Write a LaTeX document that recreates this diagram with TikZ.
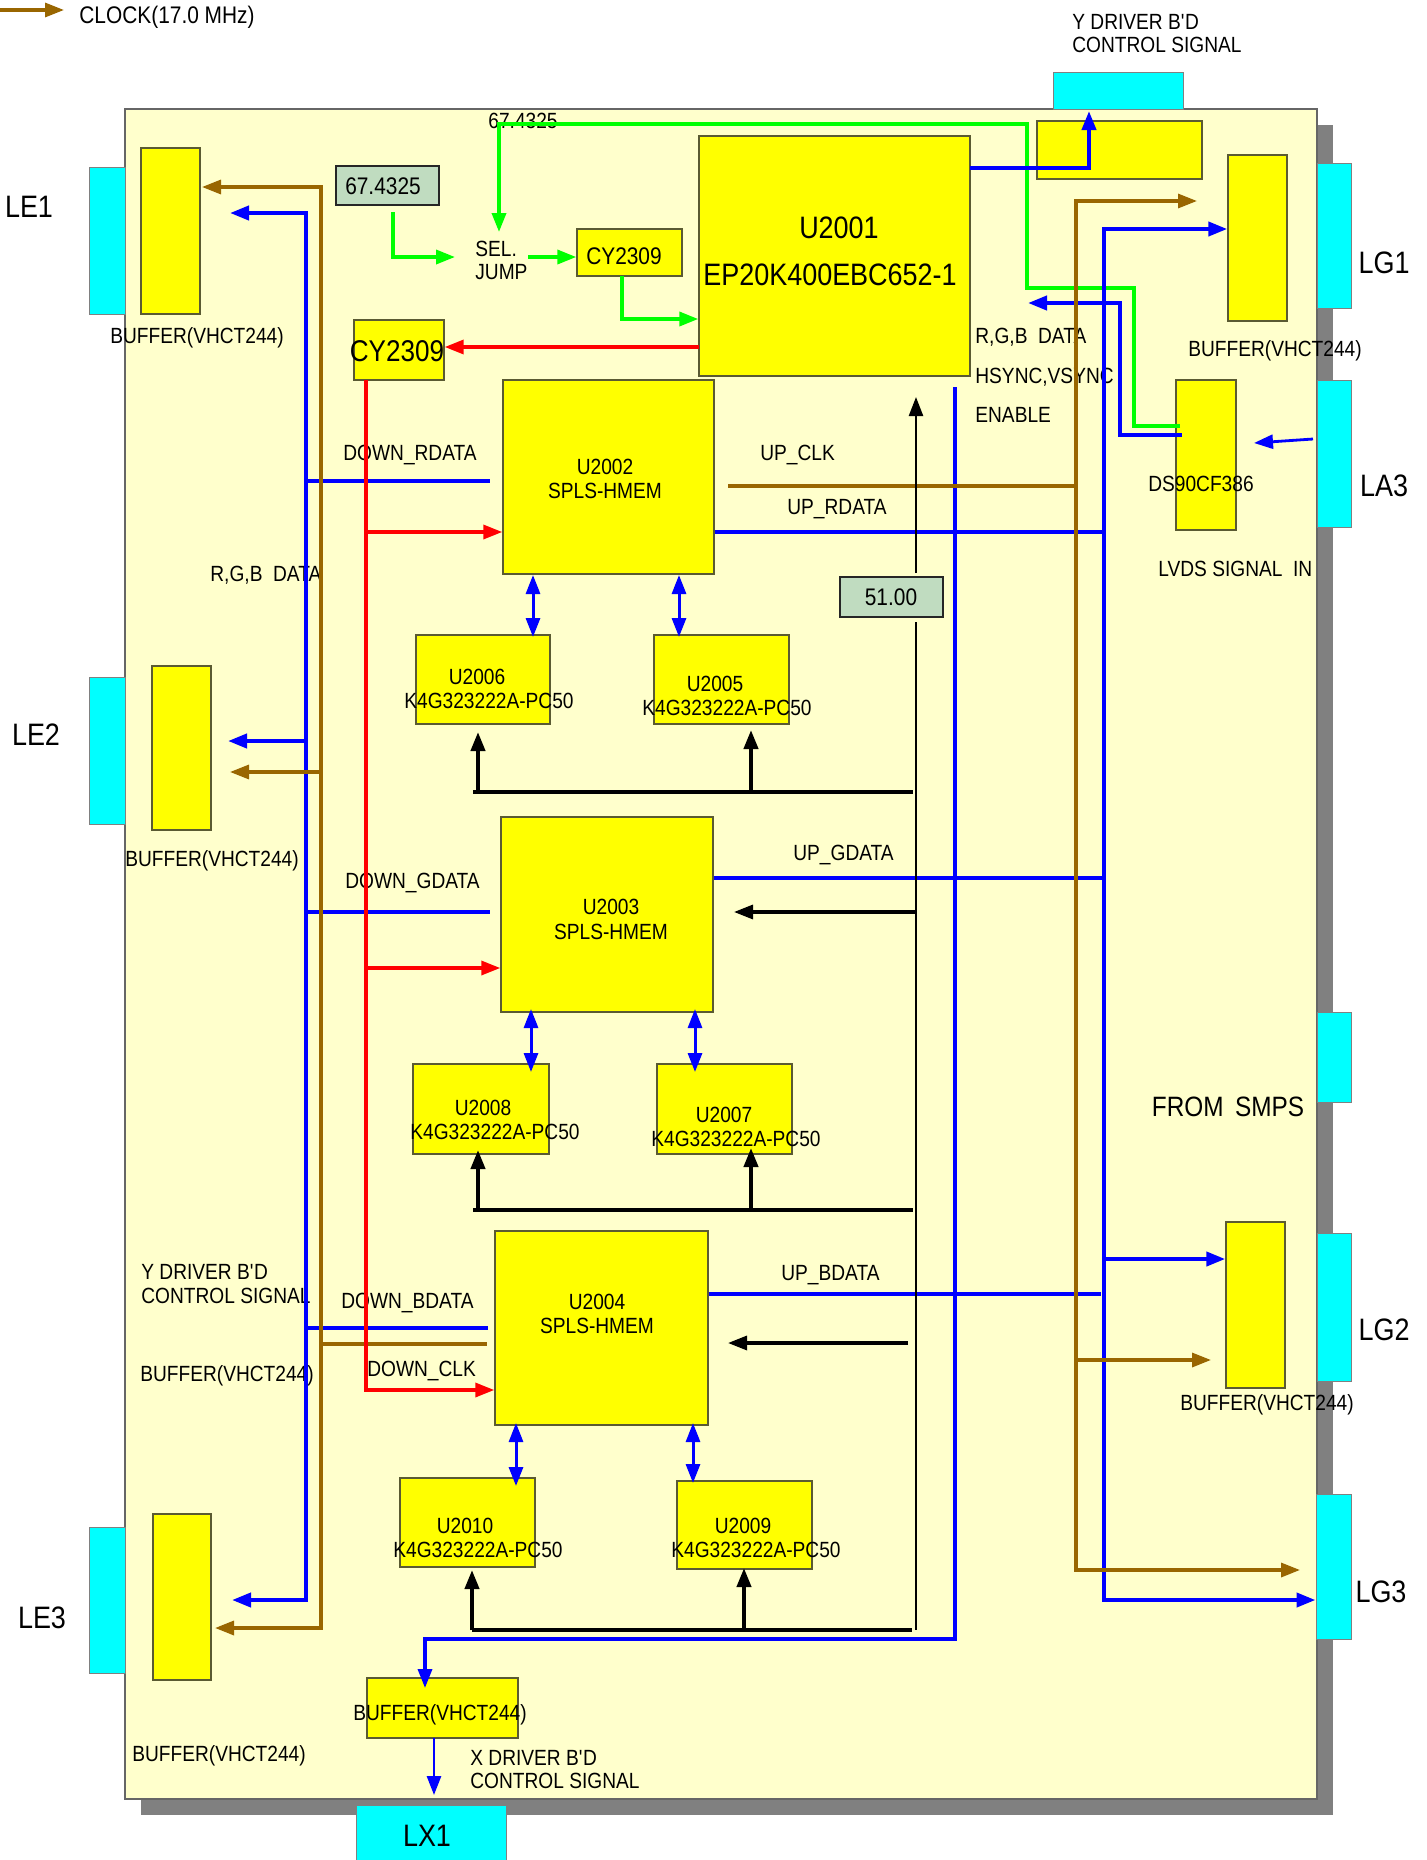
\documentclass[tikz,border=0pt]{standalone}
\usepackage{fontspec}
\setmainfont{Liberation Sans}[FakeStretch=0.87]
\usetikzlibrary{arrows.meta,fit}
\definecolor{boardc}{HTML}{FFFFCC}
\definecolor{ylw}{HTML}{FFFF00}
\definecolor{cyn}{HTML}{00FFFF}
\definecolor{olv}{HTML}{5A5A32}
\definecolor{shd}{HTML}{808080}
\definecolor{gbx}{HTML}{C0DCC0}
\definecolor{brn}{HTML}{996600}
\definecolor{blu}{HTML}{0000FF}
\definecolor{grn}{HTML}{00FF00}
\definecolor{rdd}{HTML}{FF0000}
\newcommand\ftxt{\fontsize{11}{12}\selectfont}
\newcommand\fbig{\fontsize{15.5}{17}\selectfont}
\newcommand\fcy{\fontsize{15}{17}\selectfont}
\newcommand\fsm{\fontsize{12}{13}\selectfont}
\newcommand\fsmps{\fontsize{14}{16}\selectfont}
\newcommand\mkbox[6]{\path (#2,#3) coordinate (#1nw) (#4,#5) coordinate (#1se); \node[#6, fit=(#1nw)(#1se)] (#1) {};}
\begin{document}
\begin{tikzpicture}[x=0.5pt,y=-0.5pt,
  ybox/.style={draw=olv, fill=ylw, line width=0.7pt, inner sep=0pt},
  cbox/.style={draw=gray, fill=cyn, line width=0.5pt, inner sep=0pt},
  gbox/.style={draw=black!85, fill=gbx, line width=0.7pt, inner sep=0pt},
  shadowst/.style={fill=shd, draw=none, inner sep=0pt},
  boardst/.style={fill=boardc, draw=black!60, line width=0.7pt, inner sep=0pt},
  lbl/.style={font=\ftxt, inner sep=0pt, anchor=base west},
  ctr/.style={font=\ftxt, inner sep=0pt, anchor=base},
  big/.style={font=\fbig, inner sep=0pt, anchor=base},
  ah/.style={-{Triangle[length=9.5pt,width=7pt]}},
  dah/.style={{Triangle[length=9.5pt,width=7pt]}-{Triangle[length=9.5pt,width=7pt]}},
  wBlue/.style={draw=blu, line width=2pt},
  wBlueThin/.style={draw=blu, line width=1.4pt},
  wBrown/.style={draw=brn, line width=1.6pt},
  wRed/.style={draw=rdd, line width=1.7pt},
  wGreen/.style={draw=grn, line width=1.8pt},
  wBlack/.style={draw=black, line width=2pt},
  wBlackThin/.style={draw=black, line width=1.2pt},
  wMem/.style={draw=blu, line width=1.5pt, dah}]
\useasboundingbox (0,0) rectangle (1426,1860);

% board and shadow
\mkbox{shadow}{141}{125}{1333}{1815}{shadowst}
\mkbox{board}{125}{109}{1317}{1799}{boardst}

% cyan connectors
\mkbox{le1c}{89}{167}{125}{314}{cbox}
\mkbox{le2c}{89}{677}{125}{824}{cbox}
\mkbox{le3c}{89}{1527}{125}{1673}{cbox}
\mkbox{lg1c}{1317}{163}{1351}{308}{cbox}
\mkbox{la3c}{1317}{380}{1351}{527}{cbox}
\mkbox{smpsc}{1317}{1012}{1351}{1102}{cbox}
\mkbox{lg2c}{1317}{1233}{1351}{1381}{cbox}
\mkbox{lg3c}{1316}{1494}{1351}{1639}{cbox}
\mkbox{topc}{1053}{72}{1183}{109}{cbox}
\mkbox{lx1c}{356}{1805}{506}{1860}{cbox}

% yellow boxes
\mkbox{le1b}{141}{148}{200}{314}{ybox}
\mkbox{le2b}{152}{666}{211}{830}{ybox}
\mkbox{le3b}{153}{1514}{211}{1680}{ybox}
\mkbox{lg1b}{1228}{155}{1287}{321}{ybox}
\mkbox{ds90}{1176}{380}{1236}{530}{ybox}
\mkbox{lg2b}{1226}{1222}{1285}{1388}{ybox}
\mkbox{ytop}{1037}{121}{1202}{179}{ybox}
\mkbox{u2001}{699}{136}{970}{376}{ybox}
\mkbox{cytop}{577}{229}{682}{276}{ybox}
\mkbox{cybig}{354}{320}{444}{380}{ybox}
\mkbox{u2002}{503}{380}{714}{574}{ybox}
\mkbox{u2006}{416}{635}{550}{724}{ybox}
\mkbox{u2005}{654}{635}{789}{724}{ybox}
\mkbox{u2003}{501}{817}{713}{1012}{ybox}
\mkbox{u2008}{413}{1064}{549}{1154}{ybox}
\mkbox{u2007}{657}{1064}{792}{1154}{ybox}
\mkbox{u2004}{495}{1231}{708}{1425}{ybox}
\mkbox{u2010}{400}{1478}{535}{1567}{ybox}
\mkbox{u2009}{677}{1481}{812}{1569}{ybox}
\mkbox{xbuf}{367}{1678}{518}{1738}{ybox}
\mkbox{fqa}{336}{166}{439}{205}{gbox}
\mkbox{fqb}{840}{577}{943}{617}{gbox}

% texts
\node[lbl, font=\fsm] (tclock) at (79,23) {CLOCK(17.0 MHz)};
\node[lbl] (tyd1) at (1072,29) {Y DRIVER B\textquotesingle D};
\node[lbl] (tyd2) at (1072,52) {CONTROL SIGNAL};
\node[big] (tle1) at (29,217) {LE1};
\node[big] (tle2) at (36,745) {LE2};
\node[big] (tle3) at (42,1628) {LE3};
\node[big] (tlg1) at (1384,273) {LG1};
\node[big] (tla3) at (1384,496) {LA3};
\node[big] (tlg2) at (1384,1340) {LG2};
\node[big] (tlg3) at (1381,1602) {LG3};
\node[big] (tlx1) at (427,1846) {LX1};
\node[inner sep=0pt, anchor=base, font=\fsmps] (tsmps) at (1228,1116) {FROM\ \,SMPS};
\node[big] (tu2001a) at (839,238) {U2001};
\node[big] (tu2001b) at (830,285) {EP20K400EBC652-1};
\node[inner sep=0pt, anchor=base, font=\fsm] (tcy1) at (624,264) {CY2309};
\node[inner sep=0pt, anchor=base, font=\fcy] (tcy2) at (397,361) {CY2309};
\node[inner sep=0pt, anchor=base, font=\fsm] (tfq1) at (383,194) {67.4325};
\node[inner sep=0pt, anchor=base, font=\fsm] (tfq2) at (891,605) {51.00};
\node[ctr] (tu2002a) at (605,474) {U2002};
\node[ctr] (tu2002b) at (605,498) {SPLS-HMEM};
\node[ctr] (tu2006a) at (477,684) {U2006};
\node[ctr] (tu2006b) at (489,708) {K4G323222A-PC50};
\node[ctr] (tu2005a) at (715,691) {U2005};
\node[ctr] (tu2005b) at (727,715) {K4G323222A-PC50};
\node[ctr] (tu2003a) at (611,914) {U2003};
\node[ctr] (tu2003b) at (611,939) {SPLS-HMEM};
\node[ctr] (tu2008a) at (483,1115) {U2008};
\node[ctr] (tu2008b) at (495,1139) {K4G323222A-PC50};
\node[ctr] (tu2007a) at (724,1122) {U2007};
\node[ctr] (tu2007b) at (736,1146) {K4G323222A-PC50};
\node[ctr] (tu2004a) at (597,1309) {U2004};
\node[ctr] (tu2004b) at (597,1333) {SPLS-HMEM};
\node[ctr] (tu2010a) at (465,1533) {U2010};
\node[ctr] (tu2010b) at (478,1557) {K4G323222A-PC50};
\node[ctr] (tu2009a) at (743,1533) {U2009};
\node[ctr] (tu2009b) at (756,1557) {K4G323222A-PC50};
\node[ctr] (txbuf) at (440,1720) {BUFFER(VHCT244)};
\node[ctr] (tds90) at (1201,491) {DS90CF386};
\node[lbl] (tsel1) at (475,256) {SEL.};
\node[lbl] (tsel2) at (475,279) {JUMP};
\node[lbl] (tfq3) at (488,128) {67.4325};
\node[lbl] (tbuf1) at (110,343) {BUFFER(VHCT244)};
\node[lbl] (tbuf2) at (125,866) {BUFFER(VHCT244)};
\node[lbl] (tbuf3) at (132,1761) {BUFFER(VHCT244)};
\node[lbl] (tbuf4) at (140,1381) {BUFFER(VHCT244)};
\node[lbl] (tbuf5) at (1188,356) {BUFFER(VHCT244)};
\node[lbl] (tbuf6) at (1180,1410) {BUFFER(VHCT244)};
\node[lbl] (tyl1) at (141,1279) {Y DRIVER B\textquotesingle D};
\node[lbl] (tyl2) at (141,1303) {CONTROL SIGNAL};
\node[lbl] (tlvds) at (1158,576) {LVDS\ SIGNAL\ \ IN};
\node[lbl] (trgb1) at (975,343) {R,G,B\ \ DATA};
\node[lbl] (thsync) at (975,383) {HSYNC,VSYNC};
\node[lbl] (tenable) at (975,422) {ENABLE};
\node[lbl] (trgb2) at (210,581) {R,G,B\ \ DATA};
\node[lbl] (tdr) at (343,460) {DOWN\_RDATA};
\node[lbl] (tdg) at (345,888) {DOWN\_GDATA};
\node[lbl] (tdb) at (341,1308) {DOWN\_BDATA};
\node[lbl] (tdc) at (367,1376) {DOWN\_CLK};
\node[lbl] (tuc) at (760,460) {UP\_CLK};
\node[lbl] (tur) at (787,514) {UP\_RDATA};
\node[lbl] (tug) at (793,860) {UP\_GDATA};
\node[lbl] (tub) at (781,1280) {UP\_BDATA};
\node[lbl] (txd1) at (470,1765) {X DRIVER B\textquotesingle D};
\node[lbl] (txd2) at (470,1788) {CONTROL SIGNAL};

% legend arrow
\coordinate (lgA) at (0,10); \coordinate (lgB) at (64,10);
\draw[wBrown,ah] (lgA) -- (lgB);

% left blue bus
\coordinate (bL1) at (306,213); \coordinate (bL3) at (306,1600);
\coordinate (aLE1) at (230,213); \coordinate (aLE3) at (232,1600);
\draw[wBlue,dah] (aLE1) -- (bL1) -- (bL3) -- (aLE3);
\coordinate (bL2) at (306,741); \coordinate (aLE2) at (228,741);
\draw[wBlue,ah] (bL2) -- (aLE2);
\coordinate (bLr) at (306,481); \coordinate (eR) at (490,481);
\draw[wBlue] (bLr) -- (eR);
\coordinate (bLg) at (306,912); \coordinate (eG) at (490,912);
\draw[wBlue] (bLg) -- (eG);
\coordinate (bLb) at (306,1328); \coordinate (eB) at (488,1328);
\draw[wBlue] (bLb) -- (eB);

% left brown bus
\coordinate (cL1) at (321,187); \coordinate (cL3) at (321,1628);
\coordinate (aC1) at (202,187); \coordinate (aC3) at (215,1628);
\draw[wBrown,dah] (aC1) -- (cL1) -- (cL3) -- (aC3);
\coordinate (cL2) at (321,772); \coordinate (aC2) at (230,772);
\draw[wBrown,ah] (cL2) -- (aC2);
\coordinate (cL4) at (321,1344); \coordinate (eC4) at (487,1344);
\draw[wBrown] (cL4) -- (eC4);

% red
\coordinate (r0) at (699,347);
\draw[wRed,ah] (r0) -- (cybig.east |- r0);
\coordinate (rT) at (366,380); \coordinate (rB) at (366,1390);
\draw[wRed,ah] (rT) -- (rB) -- (u2004.west |- rB);
\coordinate (r1) at (366,532); \draw[wRed,ah] (r1) -- (u2002.west |- r1);
\coordinate (r2) at (366,968); \draw[wRed,ah] (r2) -- (u2003.west |- r2);

% green
\coordinate (g1) at (393,212); \coordinate (g2) at (393,257); \coordinate (g3) at (455,257);
\draw[wGreen,ah] (g1) -- (g2) -- (g3);
\coordinate (g4) at (528,257); \draw[wGreen,ah] (g4) -- (cytop.west |- g4);
\coordinate (g5) at (622,276); \coordinate (g6) at (622,319);
\draw[wGreen,ah] (g5) -- (g6) -- (u2001.west |- g6);
\coordinate (h1) at (1180,426); \coordinate (h2) at (1134,426); \coordinate (h3) at (1134,288);
\coordinate (h4) at (1027,288); \coordinate (h5) at (1027,124); \coordinate (h6) at (499,124);
\coordinate (h7) at (499,232);
\draw[wGreen,ah] (h1) -- (h2) -- (h3) -- (h4) -- (h5) -- (h6) -- (h7);

% blue upper right
\coordinate (k1) at (970,168); \coordinate (k2) at (1089,168); \coordinate (k3) at (1089,111);
\draw[wBlue,ah] (k1) -- (k2) -- (k3);
\coordinate (m1) at (1182,435); \coordinate (m2) at (1120,435); \coordinate (m3) at (1120,303); \coordinate (m4) at (1028,303);
\draw[wBlue,ah] (m1) -- (m2) -- (m3) -- (m4);
\coordinate (n1) at (1313,439); \coordinate (n2) at (1254,443);
\draw[wBlueThin,ah] (n1) -- (n2);

% right blue bus
\coordinate (p1) at (1104,229); \coordinate (p2) at (1104,1600);
\draw[wBlue,dah] (lg1b.west |- p1) -- (p1) -- (p2) -- (lg3c.west |- p2);
\coordinate (p3) at (1104,1259); \draw[wBlue,ah] (p3) -- (lg2b.west |- p3);
\coordinate (q1) at (1104,532); \draw[wBlue] (u2002.east |- q1) -- (q1);
\coordinate (q2) at (1104,878); \draw[wBlue] (u2003.east |- q2) -- (q2);
\coordinate (q3) at (1101,1294); \draw[wBlue] (u2004.east |- q3) -- (q3);

% U2001 down to X buffer
\coordinate (s1) at (955,387); \coordinate (s2) at (955,1639); \coordinate (s3) at (425,1639); \coordinate (s4) at (425,1688);
\draw[draw=blu, line width=1.7pt, ah] (s1) -- (s2) -- (s3) -- (s4);
\coordinate (s5) at (434,1738); \coordinate (s6) at (434,1795);
\draw[wBlueThin,ah] (s5) -- (s6);

% right brown bus
\coordinate (bt1) at (1076,201); \coordinate (bt2) at (1076,1570);
\coordinate (bta) at (1197,201); \coordinate (btb) at (1300,1570);
\draw[wBrown,dah] (bta) -- (bt1) -- (bt2) -- (btb);
\coordinate (bt3) at (1076,1360); \coordinate (btc) at (1211,1360);
\draw[wBrown,ah] (bt3) -- (btc);
\coordinate (bt4) at (1076,486); \coordinate (btd) at (728,486);
\draw[wBrown] (btd) -- (bt4);

% black
\coordinate (v1) at (916,573); \coordinate (v0) at (916,397);
\draw[wBlackThin,ah] (v1) -- (v0);
\coordinate (v2) at (916,622); \coordinate (v3) at (916,1630);
\draw[wBlackThin] (v2) -- (v3);
\coordinate (w1a) at (473,792); \coordinate (w1b) at (913,792);
\draw[wBlack] (w1a) -- (w1b);
\coordinate (w1c) at (478,792); \coordinate (w1d) at (478,732);
\coordinate (w1e) at (751,792); \coordinate (w1f) at (751,730);
\draw[wBlack,ah] (w1c) -- (w1d);
\draw[wBlack,ah] (w1e) -- (w1f);
\coordinate (w2a) at (473,1210); \coordinate (w2b) at (913,1210);
\draw[wBlack] (w2a) -- (w2b);
\coordinate (w2c) at (478,1210); \coordinate (w2d) at (478,1150);
\coordinate (w2e) at (751,1210); \coordinate (w2f) at (751,1148);
\draw[wBlack,ah] (w2c) -- (w2d);
\draw[wBlack,ah] (w2e) -- (w2f);
\coordinate (w3a) at (472,1630); \coordinate (w3b) at (912,1630);
\draw[wBlack] (w3a) -- (w3b);
\coordinate (w3c) at (472,1630); \coordinate (w3d) at (472,1570);
\coordinate (w3e) at (744,1630); \coordinate (w3f) at (744,1568);
\draw[wBlack,ah] (w3c) -- (w3d);
\draw[wBlack,ah] (w3e) -- (w3f);
\coordinate (x1a) at (915,912); \coordinate (x1b) at (734,912);
\draw[draw=black, line width=1.6pt, ah] (x1a) -- (x1b);
\coordinate (x2a) at (908,1343); \coordinate (x2b) at (728,1343);
\draw[draw=black, line width=1.6pt, ah] (x2a) -- (x2b);

% memory double arrows
\coordinate (ma1) at (533,575); \coordinate (mb1) at (533,637); \draw[wMem] (ma1) -- (mb1);
\coordinate (ma2) at (679,575); \coordinate (mb2) at (679,637); \draw[wMem] (ma2) -- (mb2);
\coordinate (ma3) at (531,1009); \coordinate (mb3) at (531,1072); \draw[wMem] (ma3) -- (mb3);
\coordinate (ma4) at (695,1009); \coordinate (mb4) at (695,1072); \draw[wMem] (ma4) -- (mb4);
\coordinate (ma5) at (516,1423); \coordinate (mb5) at (516,1486); \draw[wMem] (ma5) -- (mb5);
\coordinate (ma6) at (693,1423); \coordinate (mb6) at (693,1483); \draw[wMem] (ma6) -- (mb6);
\end{tikzpicture}
\end{document}
